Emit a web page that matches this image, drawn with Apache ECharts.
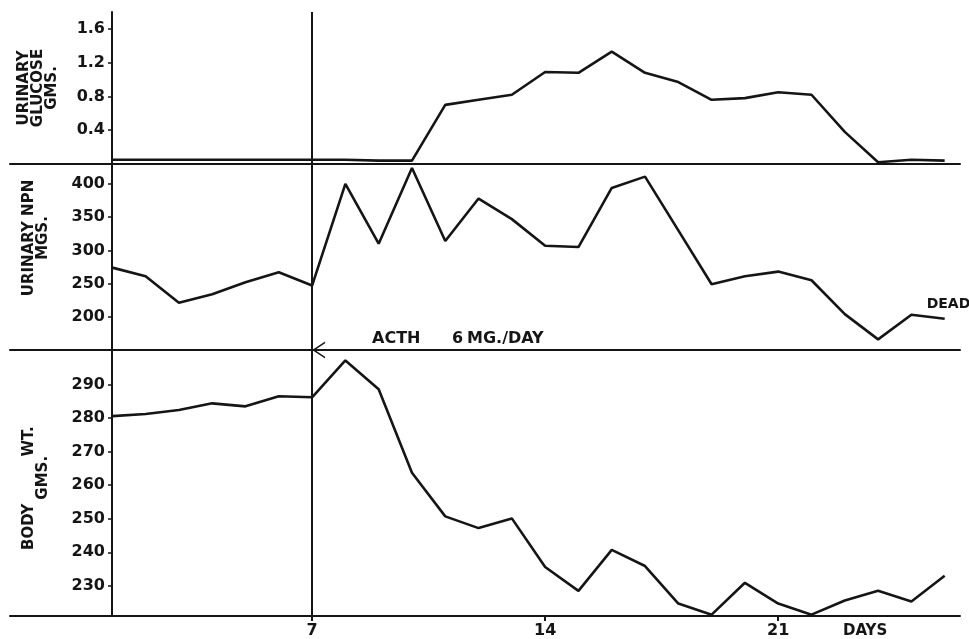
<!DOCTYPE html>
<html><head><meta charset="utf-8">
<script src="https://cdn.jsdelivr.net/npm/echarts@6/dist/echarts.min.js"></script>
<style>html,body{margin:0;padding:0;background:#fff}#c{width:969px;height:639px}</style>
</head><body><div id="c"></div>
<script>
// ---- data ----
const days = [1,2,3,4,5,6,7,8,9,10,11,12,13,14,15,16,17,18,19,20,21,22,23,24,25,26];
const glucose = [0.05,0.05,0.05,0.05,0.05,0.05,0.05,0.05,0.04,0.04,0.70,0.76,0.82,1.09,1.08,1.33,1.08,0.97,0.76,0.78,0.85,0.82,0.38,0.02,0.05,0.04];
const npn = [274,261,221,234,252,267,247,400,310,424,314,378,347,307,305,394,411,330,249,261,268,255,204,166,203,197];
const bodyWt = [280.6,281.2,282.4,284.4,283.5,286.5,286.2,297.2,288.6,263.7,250.7,247.2,250.1,235.6,228.5,240.7,235.9,224.7,221.4,230.9,224.7,221.4,225.6,228.5,225.3,233.0];
const xTicks = [7,14,21];
const glucoseTicks = [0.4,0.8,1.2,1.6];
const npnTicks = [200,250,300,350,400];
const wtTicks = [230,240,250,260,270,280,290];
const acthDay = 7;

// ---- chart ----
const FONT = 'DejaVu Sans';
const INK = '#151515';
const X_MIN = -2.073, X_MAX = 26.46;
const chart = echarts.init(document.getElementById('c'));
const pairs = vals => days.map((d, i) => [d, vals[i]]);

const grids = [
  {left: 10, right: 9, top: 12, height: 152},
  {left: 10, right: 9, top: 164, height: 186},
  {left: 10, right: 9, top: 350, height: 268}
];
function xAxis(i) {
  const last = i === 2;
  return {
    type: 'value', gridIndex: i, min: X_MIN, max: X_MAX,
    splitLine: {show: false},
    axisLine: {show: true, onZero: false, lineStyle: {color: INK, width: 2}},
    axisTick: {show: last, length: 5, customValues: xTicks, lineStyle: {color: INK, width: 2}},
    axisLabel: {show: last, customValues: xTicks, margin: 7, fontSize: 16, fontWeight: 'bold',
      fontFamily: FONT, color: INK, formatter: v => xTicks.includes(v) ? String(v) : ''},
    name: last ? 'DAYS' : '', nameLocation: 'end', nameGap: -117,
    nameTextStyle: {fontSize: 15, fontWeight: 'bold', fontFamily: FONT, color: INK,
      verticalAlign: 'top', padding: [8, 0, 0, 0]}
  };
}
function yAxis(i, min, max, ticks, name, gap, shift, fmt) {
  return {
    type: 'value', gridIndex: i, min: min, max: max, offset: -102,
    splitLine: {show: false},
    axisLine: {show: true, onZero: false, lineStyle: {color: INK, width: 2}},
    axisTick: {show: true, length: 4, customValues: ticks, lineStyle: {color: INK, width: 1.5}},
    axisLabel: {customValues: ticks, margin: 7, fontSize: 16, fontWeight: 'bold', fontFamily: FONT,
      color: INK, formatter: v => ticks.includes(v) ? fmt(v) : ''},
    name: name, nameLocation: 'middle', nameRotate: 90, nameGap: gap,
    nameTextStyle: {fontSize: 15, fontWeight: 'bold', fontFamily: FONT, color: INK, lineHeight: 14,
      align: 'center', padding: shift > 0 ? [0, 0, 0, shift] : [0, -shift, 0, 0]}
  };
}
const day7Line = {
  silent: true, symbol: 'none', animation: false,
  label: {show: false},
  lineStyle: {color: INK, width: 2, type: 'solid'},
  data: [{xAxis: acthDay}]
};
const lineStyle = {color: INK, width: 2.6};

const option = {
  backgroundColor: '#fff',
  animation: false,
  grid: grids,
  xAxis: [xAxis(0), xAxis(1), xAxis(2)],
  yAxis: [
    yAxis(0, 0, 1.8, glucoseTicks, 'URINARY\nGLUCOSE\nGMS.', 53, 0, v => v.toFixed(1)),
    yAxis(1, 150, 430, npnTicks, 'URINARY NPN\nMGS.', 62, 38, v => String(v)),
    yAxis(2, 221, 300.3, wtTicks, 'BODY         WT.  \n  GMS.', 62, 0, v => String(v))
  ],
  series: [
    {type: 'line', xAxisIndex: 0, yAxisIndex: 0, data: pairs(glucose), showSymbol: false,
      lineStyle: lineStyle, markLine: day7Line},
    {type: 'line', xAxisIndex: 1, yAxisIndex: 1, data: pairs(npn), showSymbol: false,
      lineStyle: lineStyle, markLine: day7Line,
      endLabel: {show: true, formatter: 'DEAD', offset: [-26, -14], fontSize: 14, fontWeight: 'bold',
        fontFamily: FONT, color: INK}},
    {type: 'line', xAxisIndex: 2, yAxisIndex: 2, data: pairs(bodyWt), showSymbol: false,
      lineStyle: lineStyle, markLine: day7Line,
      markPoint: {silent: true, animation: false, label: {show: false},
        data: [{coord: [acthDay, 300.3], symbol: 'path://M13,0 L0,8.5 L13,17 L13,15.2 L2.8,8.5 L13,1.8 Z',
          symbolSize: [13, 17], symbolOffset: [6.5, 0], itemStyle: {color: INK}}]}}
  ],
  graphic: [
    {type: 'text', left: 372, top: 331, style: {text: 'ACTH', font: 'bold 16px "DejaVu Sans"', fill: INK}},
    {type: 'text', left: 452, top: 331, style: {text: '6', font: 'bold 16px "DejaVu Sans"', fill: INK}},
    {type: 'text', left: 467, top: 331, style: {text: 'MG./DAY', font: 'bold 16px "DejaVu Sans"', fill: INK}}
  ]
};
chart.setOption(option);
</script>
</body></html>
